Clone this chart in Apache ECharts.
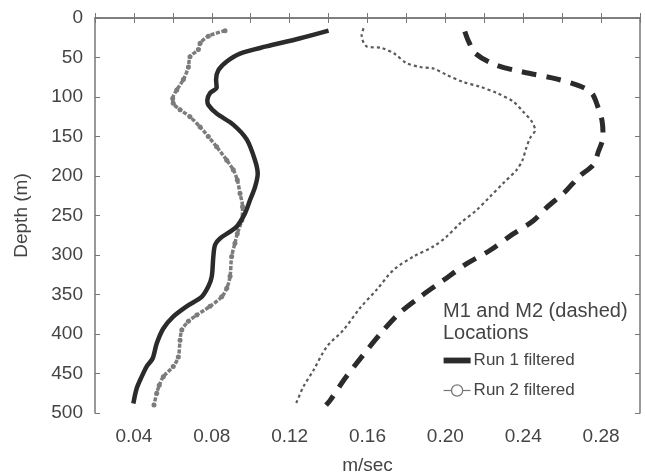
<!DOCTYPE html>
<html>
<head>
<meta charset="utf-8">
<script src="https://cdn.jsdelivr.net/npm/echarts@6/dist/echarts.min.js"></script>
<style>
html,body{margin:0;padding:0;background:#fff;}
#c{width:645px;height:474px;}
</style>
</head>
<body>
<div id="c"></div>
<script>
// ---- data (velocity m/sec vs depth m) ----
const m1Run1Depth = [16, 26, 36, 45, 55, 66, 78, 88, 95, 104, 110, 121, 135, 154, 180, 197, 214, 230, 247, 264, 279, 287, 302, 327, 340, 353, 365, 378, 393, 412, 431, 441, 454, 469, 488];
const m1Run1Vel   = [0.140, 0.125, 0.108, 0.0945, 0.0877, 0.0834, 0.0822, 0.0825, 0.0791, 0.0777, 0.0782, 0.0825, 0.091, 0.098, 0.1022, 0.1036, 0.1022, 0.0997, 0.0971, 0.0928, 0.0842, 0.0817, 0.0808, 0.080, 0.0782, 0.0748, 0.0671, 0.0602, 0.0551, 0.0517, 0.0496, 0.0466, 0.044, 0.0414, 0.0397];

const m1Run2Depth = [16, 23, 32, 40, 49, 62, 78, 91, 102, 108, 116, 125, 138, 150, 163, 180, 192, 205, 222, 239, 256, 273, 285, 302, 327, 342, 353, 365, 376, 384, 395, 408, 429, 441, 454, 465, 475, 490];
const m1Run2Vel   = [0.0868, 0.0782, 0.074, 0.0731, 0.0688, 0.068, 0.0654, 0.062, 0.0599, 0.0602, 0.0637, 0.0688, 0.074, 0.0782, 0.0825, 0.0877, 0.091, 0.0931, 0.0945, 0.0958, 0.0954, 0.0931, 0.0919, 0.0902, 0.0894, 0.0877, 0.0851, 0.0791, 0.0723, 0.068, 0.0646, 0.0637, 0.0628, 0.0602, 0.0551, 0.053, 0.0517, 0.0503];

const m2Run1Depth = [17, 30, 45, 60, 70, 77, 87, 96, 110, 130, 150, 170, 186, 200, 220, 240, 257, 273, 294, 311, 332, 353, 374, 400, 429, 456, 484, 490];
const m2Run1Vel   = [0.210, 0.212, 0.2155, 0.2265, 0.243, 0.257, 0.270, 0.2755, 0.278, 0.2805, 0.281, 0.2785, 0.276, 0.269, 0.2615, 0.252, 0.245, 0.235, 0.223, 0.211, 0.199, 0.187, 0.1762, 0.1665, 0.157, 0.1485, 0.1408, 0.1387];

const m2Run2Depth = [13, 22, 36, 38, 45, 57, 62, 64, 72, 81, 87, 95, 106, 119, 131, 142, 152, 165, 180, 192, 209, 226, 243, 260, 277, 289, 302, 319, 344, 367, 395, 416, 446, 467, 486, 489];
const m2Run2Vel   = [0.158, 0.157, 0.1596, 0.1673, 0.1737, 0.180, 0.187, 0.1939, 0.2007, 0.2092, 0.2178, 0.2264, 0.235, 0.2401, 0.2444, 0.2461, 0.2435, 0.2415, 0.2396, 0.2367, 0.2298, 0.223, 0.2161, 0.2076, 0.2005, 0.194, 0.1836, 0.1733, 0.1647, 0.1562, 0.1476, 0.1391, 0.1322, 0.127, 0.1236, 0.1228];

const seriesNames = ['Run 1 filtered', 'Run 2 filtered', 'M2 Run 1 filtered', 'M2 Run 2 filtered'];
const legendTitle = 'M1 and M2 (dashed)\nLocations';
const xName = 'm/sec';
const yName = 'Depth (m)';

function zip(v, d) { return v.map((x, i) => [x, d[i]]); }

const FONT = 'Liberation Sans, Arial, sans-serif';
const TXT = '#444';
const AX = '#777';

const chart = echarts.init(document.getElementById('c'), null, {renderer: 'canvas'});

const baseX = {
  type: 'value', min: 0.02, max: 0.30, interval: 0.02,
  axisLine: {show: true, lineStyle: {color: AX, width: 1.5}},
  axisTick: {show: true, inside: true, length: 5, lineStyle: {color: AX, width: 1}},
  splitLine: {show: false}
};
const baseY = {
  type: 'value', min: 0, max: 500, interval: 50, inverse: true,
  axisLine: {show: true, lineStyle: {color: AX, width: 1.5}},
  axisTick: {show: true, inside: true, length: 5, lineStyle: {color: AX, width: 1}},
  splitLine: {show: false}
};

chart.setOption({
  animation: false,
  backgroundColor: '#fff',
  textStyle: {fontFamily: FONT},
  grid: {left: 95, right: 5, top: 18, bottom: 61, containLabel: false, outerBoundsMode: 'none'},
  title: {
    text: legendTitle, left: 443, top: 300, padding: 0,
    textStyle: {fontSize: 20, fontWeight: 'normal', color: TXT, lineHeight: 22, fontFamily: FONT}
  },
  legend: {
    orient: 'vertical', left: 443, top: 352, padding: 0,
    itemWidth: 27, itemHeight: 14, itemGap: 13,
    textStyle: {fontSize: 17, color: TXT, fontFamily: FONT, padding: [0, 0, 0, -2]},
    data: [
      {name: seriesNames[0], icon: 'path://M0,0H28V6H0Z'},
      {name: seriesNames[1], lineStyle: {width: 1.2, color: '#777', type: 'solid'},
       itemStyle: {color: '#fff', borderColor: '#777', borderWidth: 1.3}}
    ]
  },
  xAxis: [
    Object.assign({}, baseX, {
      position: 'bottom',
      name: xName, nameLocation: 'middle', nameGap: 43,
      nameTextStyle: {fontSize: 19, color: TXT, fontFamily: FONT},
      axisLabel: {
        show: true, interval: 0, margin: 14, fontSize: 19, color: TXT, fontFamily: FONT,
        formatter: v => (Math.round(v * 100) % 4 === 0 ? v.toFixed(2) : '')
      }
    }),
    Object.assign({}, baseX, {position: 'top', axisLabel: {show: false}})
  ],
  yAxis: [
    Object.assign({}, baseY, {
      position: 'left',
      name: yName, nameLocation: 'middle', nameGap: 64, nameRotate: 90,
      nameTextStyle: {fontSize: 19, color: TXT, fontFamily: FONT},
      axisLabel: {show: true, margin: 12, fontSize: 19, color: TXT, fontFamily: FONT}
    }),
    Object.assign({}, baseY, {position: 'right', axisLabel: {show: false}})
  ],
  series: [
    {
      name: seriesNames[0], type: 'line', xAxisIndex: 0, yAxisIndex: 0,
      data: zip(m1Run1Vel, m1Run1Depth), smooth: 0.3, symbol: 'none',
      lineStyle: {color: '#2b2b2b', width: 4.5}, itemStyle: {color: '#2b2b2b'}, z: 4
    },
    {
      name: seriesNames[1], type: 'line', xAxisIndex: 0, yAxisIndex: 0,
      data: zip(m1Run2Vel, m1Run2Depth), smooth: 0.3,
      symbol: 'circle', symbolSize: 5, showSymbol: true, showAllSymbol: true,
      lineStyle: {color: '#7c7c7c', width: 3.5, type: [4, 1.5]}, itemStyle: {color: '#7c7c7c'}, z: 3
    },
    {
      name: seriesNames[2], type: 'line', xAxisIndex: 0, yAxisIndex: 0,
      data: zip(m2Run1Vel, m2Run1Depth), smooth: 0.3, symbol: 'none',
      lineStyle: {color: '#2b2b2b', width: 5, type: [15, 10]}, itemStyle: {color: '#2b2b2b'}, z: 4
    },
    {
      name: seriesNames[3], type: 'line', xAxisIndex: 0, yAxisIndex: 0,
      data: zip(m2Run2Vel, m2Run2Depth), smooth: 0.3, symbol: 'none',
      lineStyle: {color: '#5a5a5a', width: 2.2, type: [3, 3]}, itemStyle: {color: '#5a5a5a'}, z: 3
    }
  ]
});
</script>
</body>
</html>
